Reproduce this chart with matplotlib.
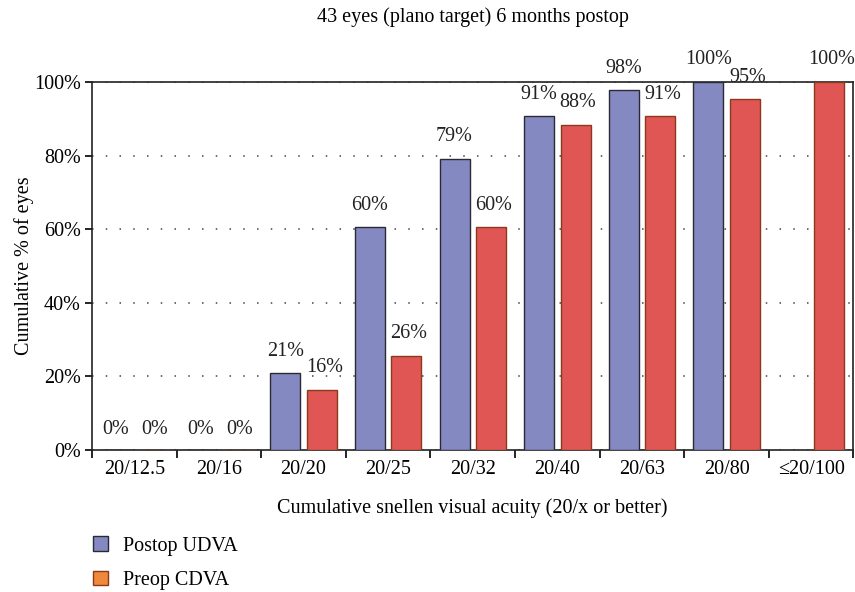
import numpy as np
import matplotlib
matplotlib.use("Agg")
import matplotlib.pyplot as plt
from matplotlib.patches import Patch

plt.rcParams["font.family"] = ["Liberation Serif", "DejaVu Serif"]

categories = ["20/12.5", "20/16", "20/20", "20/25", "20/32", "20/40", "20/63", "20/80", "\u226420/100"]
postop_udva = [0.0, 0.0, 20.9, 60.5, 79.1, 90.7, 97.7, 100.0, np.nan]
preop_cdva = [0.0, 0.0, 16.3, 25.6, 60.5, 88.4, 90.7, 95.3, 100.0]

blue = "#8589c1"
red = "#df5654"
fs = 14.5

fig = plt.figure(figsize=(8.55, 5.92), dpi=100)
ax = fig.add_axes([0.1076, 0.2399, 0.8906, 0.6216])

x = np.arange(len(categories))
w = 0.355
ax.bar(x - 0.215, postop_udva, w, color=blue, edgecolor="#2a2a35", linewidth=1.0, zorder=3)
ax.bar(x + 0.215, preop_cdva, w, color=red, edgecolor="#8a3a1c", linewidth=1.0, zorder=3)

for xs, vals, dx in ((x - 0.215, postop_udva, 0.0), (x + 0.215, preop_cdva, 0.03)):
    for xi, v in zip(xs, vals):
        if np.isnan(v):
            continue
        off = 9 if v > 0 else 8
        ax.annotate(f"{v:.0f}%", (xi + dx, v), xytext=(0, off), textcoords="offset points",
                    ha="center", va="bottom", fontsize=fs, color="#222222",
                    annotation_clip=False)

ax.set_xlim(-0.5, len(categories) - 0.5)
ax.set_ylim(0, 100)
ax.set_xticks(np.arange(len(categories) + 1) - 0.5, minor=False)
ax.set_xticklabels([])
ax.set_xticks(x, minor=True)
ax.set_xticklabels(categories, minor=True, fontsize=fs)
ax.tick_params(axis="x", which="minor", length=0, pad=7)
ax.tick_params(axis="x", which="major", length=6, width=1.2, direction="out")
ax.set_yticks([0, 20, 40, 60, 80, 100])
ax.set_yticklabels([f"{t}%" for t in [0, 20, 40, 60, 80, 100]], fontsize=fs)
ax.tick_params(axis="y", length=5, width=1.2, direction="out", pad=3)
ax.grid(axis="y", linestyle=(0, (1, 8)), color="#444444", linewidth=1.1, zorder=0)
for s in ax.spines.values():
    s.set_linewidth(1.2)
    s.set_color("#222222")

ax.set_title("43 eyes (plano target) 6 months postop", fontsize=fs, pad=43)
ax.set_ylabel("Cumulative % of eyes", fontsize=fs, labelpad=0)
ax.set_xlabel("Cumulative snellen visual acuity (20/x or better)", fontsize=fs, labelpad=14)

handles = [Patch(facecolor=blue, edgecolor="#2a2a35"),
           Patch(facecolor="#f0893c", edgecolor="#8a3a1c")]
fig.legend(handles, ["Postop UDVA", "Preop CDVA"], loc="upper left",
           bbox_to_anchor=(0.088, 0.125), frameon=False, fontsize=fs,
           handlelength=0.75, handleheight=0.75, labelspacing=0.75, handletextpad=0.7)

fig.savefig("out.png", dpi=100)
